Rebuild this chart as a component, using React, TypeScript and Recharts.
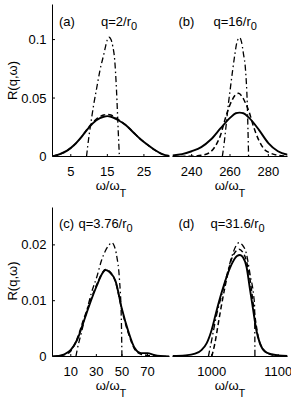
import React from 'react';
import { LineChart, Line, XAxis, YAxis } from 'recharts';

const FONT = '"Liberation Sans", Arial, Helvetica, sans-serif';

// ---------- Panel (a) q=2/r0 ----------
const A_X_DOMAIN = [0, 32];
const A_Y_DOMAIN = [0, 0.13];
const A_X_TICKS = [5, 15, 25];
const A_Y_TICKS = [0, 0.05, 0.1];
const A_SOLID_X = [0, 2, 4, 6, 8, 10, 12, 14, 15, 16, 18, 20, 22, 24, 26, 28, 30, 32];
const A_SOLID_Y = [0, 0.002, 0.005, 0.01, 0.017, 0.025, 0.031, 0.034, 0.0345, 0.034, 0.031, 0.027, 0.021, 0.015, 0.01, 0.0055, 0.002, 0.0005];
const A_DASH_X = [0, 2, 4, 6, 8, 10, 12, 14, 15, 16, 18, 20, 22, 24, 26, 28, 30, 32];
const A_DASH_Y = [0, 0.002, 0.005, 0.01, 0.017, 0.0255, 0.032, 0.0355, 0.036, 0.0355, 0.0315, 0.027, 0.021, 0.015, 0.01, 0.0055, 0.002, 0.0005];
const A_DOT_X = [9.3, 10, 10.7, 11.3, 12, 13, 14, 14.5, 15, 15.5, 16, 16.5, 17, 17.5, 18, 18.3];
const A_DOT_Y = [0, 0.018, 0.033, 0.045, 0.057, 0.074, 0.087, 0.094, 0.1, 0.102, 0.1, 0.094, 0.083, 0.057, 0.02, 0];

// ---------- Panel (b) q=16/r0 ----------
const B_X_DOMAIN = [230, 290];
const B_X_TICKS = [240, 260, 280];
const B_SOLID_X = [230, 235, 240, 245, 250, 255, 260, 263, 265, 267, 270, 275, 280, 285, 290];
const B_SOLID_Y = [0.001, 0.002, 0.0045, 0.008, 0.0145, 0.024, 0.033, 0.037, 0.0375, 0.037, 0.033, 0.023, 0.0115, 0.0045, 0.0015];
const B_DASH_X = [230, 240, 245, 249, 252, 255, 258, 261, 263, 264.5, 266, 268, 270, 272, 275, 278, 281, 285, 290];
const B_DASH_Y = [0, 0.0003, 0.001, 0.003, 0.008, 0.018, 0.035, 0.048, 0.053, 0.054, 0.052, 0.046, 0.038, 0.027, 0.014, 0.006, 0.003, 0.001, 0.0002];
const B_DOT_X = [256, 257, 258, 259.2, 260, 261.4, 262.5, 263.5, 264.5, 265.2, 266, 267, 268.1, 269, 269.7];
const B_DOT_Y = [0, 0.012, 0.027, 0.0455, 0.056, 0.074, 0.087, 0.097, 0.101, 0.1015, 0.098, 0.088, 0.074, 0.0455, 0];

// ---------- Panel (c) q=3.76/r0 ----------
const C_X_DOMAIN = [-4.3, 87.2];
const C_Y_DOMAIN = [0, 0.0267];
const C_X_TICKS = [10, 30, 50, 70];
const C_Y_TICKS = [0, 0.01, 0.02];
const C_SOLID_X = [-4.3, 0, 5, 10, 15, 20, 25, 30, 35, 37, 40, 45, 50, 55, 60, 65, 70, 75, 80, 87];
const C_SOLID_Y = [0, 0.0001, 0.0004, 0.0012, 0.003, 0.0062, 0.0095, 0.0125, 0.015, 0.0155, 0.0152, 0.0135, 0.0085, 0.0045, 0.0015, 0.0006, 0.0006, 0.0003, 0.0001, 0];
const C_DASH_X = [-4.3, 0, 5, 10, 15, 20, 25, 30, 35, 37, 40, 45, 50, 55, 60, 65, 70, 75, 80, 87];
const C_DASH_Y = [0, 0.0001, 0.0003, 0.001, 0.0032, 0.0066, 0.0098, 0.0127, 0.0151, 0.0156, 0.0153, 0.0134, 0.0083, 0.0042, 0.0013, 0.0004, 0.0002, 0.0001, 0, 0];
const C_DOT_X = [14, 15, 18, 22.6, 26, 30.4, 34, 37, 40, 42, 44, 46, 48, 49.5, 50];
const C_DOT_Y = [0, 0.0012, 0.004, 0.0083, 0.0113, 0.0143, 0.0172, 0.0189, 0.02, 0.0204, 0.0198, 0.0179, 0.014, 0.007, 0];

// ---------- Panel (d) q=31.6/r0 ----------
const D_X_DOMAIN = [941, 1114];
const D_X_TICKS = [1000, 1100];
const D_SOLID_X = [941, 960, 975, 985, 992.5, 1000, 1007.5, 1015, 1022.5, 1032, 1038, 1042.5, 1047, 1052.5, 1057, 1062.4, 1067, 1072.4, 1080, 1090, 1100, 1114];
const D_SOLID_Y = [0.0001, 0.0002, 0.0005, 0.0012, 0.0024, 0.0048, 0.0083, 0.0115, 0.0143, 0.017, 0.018, 0.0182, 0.0178, 0.016, 0.0125, 0.0083, 0.0048, 0.0024, 0.0009, 0.0004, 0.0002, 0.0001];
const D_DASH_X = [1000, 1005, 1010, 1020, 1030, 1036, 1041, 1046, 1052, 1058, 1064, 1070, 1078, 1090, 1114];
const D_DASH_Y = [0, 0.0025, 0.006, 0.0125, 0.0175, 0.0188, 0.0192, 0.0188, 0.0172, 0.0135, 0.008, 0.0035, 0.0012, 0.0003, 0];
const D_DOT_X = [995, 1000, 1007.5, 1015, 1022.5, 1030, 1036, 1041, 1046, 1052, 1058, 1063, 1064.5, 1065];
const D_DOT_Y = [0, 0.003, 0.0075, 0.011, 0.0145, 0.0178, 0.0197, 0.0204, 0.02, 0.0185, 0.0145, 0.011, 0.009, 0];

const pts = (xs: number[], ys: number[]) => xs.map((x, i) => ({ x, y: ys[i] }));

const TL = 2.5;

const BottomTick = (p: any) => (
  <g>
    <line x1={p.x} x2={p.x} y1={p.y} y2={p.y - TL} stroke="#000" strokeWidth={1} />
    <text x={p.x} y={p.y + 19} textAnchor="middle" fontFamily={FONT} fontSize={13} fill="#000">
      {p.payload.value}
    </text>
  </g>
);
const TopTick = (p: any) => (
  <line x1={p.x} x2={p.x} y1={p.y} y2={p.y + TL} stroke="#000" strokeWidth={1} />
);
const LeftTick = (p: any) => (
  <g>
    <line x1={p.x} x2={p.x + TL} y1={p.y} y2={p.y} stroke="#000" strokeWidth={1} />
    {p.show ? (
      <text x={p.x - 6} y={p.y + 4.6} textAnchor="end" fontFamily={FONT} fontSize={13} fill="#000">
        {p.payload.value}
      </text>
    ) : null}
  </g>
);
const RightTick = (p: any) => (
  <line x1={p.x} x2={p.x - TL} y1={p.y} y2={p.y} stroke="#000" strokeWidth={1} />
);

type Series = { data: { x: number; y: number }[]; dash?: string; width: number };

function Panel(props: any) {
  const { left, top, width, height, margin, yAxisWidth, xAxisHeight, xDomain, yDomain, xTicks, yTicks, showY, series } = props;
  return (
    <div style={{ position: 'absolute', left, top, width, height }}>
      <LineChart width={width} height={height} margin={margin}>
        <XAxis xAxisId="b" dataKey="x" type="number" domain={xDomain} ticks={xTicks} allowDataOverflow
          orientation="bottom" height={xAxisHeight} tickSize={0} tickMargin={0} tickLine={false}
          axisLine={{ stroke: '#000', strokeWidth: 1 }} interval={0} tick={(p: any) => <BottomTick {...p} />} />
        <XAxis xAxisId="t" dataKey="x" type="number" domain={xDomain} ticks={xTicks} allowDataOverflow
          orientation="top" height={0} tickSize={0} tickMargin={0} tickLine={false}
          axisLine={{ stroke: '#000', strokeWidth: 1 }} interval={0} tick={(p: any) => <TopTick {...p} />} />
        <YAxis yAxisId="l" type="number" domain={yDomain} ticks={yTicks} allowDataOverflow
          orientation="left" width={yAxisWidth} tickSize={0} tickMargin={0} tickLine={false}
          axisLine={{ stroke: '#000', strokeWidth: 1 }} interval={0} tick={(p: any) => <LeftTick {...p} show={showY} />} />
        <YAxis yAxisId="r" type="number" domain={yDomain} ticks={yTicks} allowDataOverflow
          orientation="right" width={0} tickSize={0} tickMargin={0} tickLine={false}
          axisLine={{ stroke: '#000', strokeWidth: 1 }} interval={0} tick={(p: any) => <RightTick {...p} />} />
        {series.map((s: Series, i: number) => (
          <Line key={i} xAxisId="b" yAxisId="l" data={s.data} dataKey="y" type="monotone"
            stroke="#000" strokeWidth={s.width} strokeDasharray={s.dash} dot={false}
            activeDot={false} isAnimationActive={false} />
        ))}
      </LineChart>
    </div>
  );
}

const mk = (sx: number[], sy: number[], dx: number[], dy: number[], ox: number[], oy: number[]): Series[] => [
  { data: pts(ox, oy), dash: '6 3 1.5 3', width: 1.3 },
  { data: pts(dx, dy), dash: '5 3', width: 1.5 },
  { data: pts(sx, sy), width: 1.9 },
];

const Sub = ({ children }: any) => (
  <tspan dy={4} fontSize={11}>{children}</tspan>
);

export default function App() {
  const txt = { fontFamily: FONT, fontSize: 13, fill: '#000' } as any;
  return (
    <div style={{ position: 'absolute', left: 0, top: 0, width: 291, height: 403, background: '#fff' }}>
      <Panel left={0} top={0} width={171} height={200}
        margin={{ top: 4.5, right: 1.5, bottom: 0, left: 0 }} yAxisWidth={52.5} xAxisHeight={43.5}
        xDomain={A_X_DOMAIN} yDomain={A_Y_DOMAIN} xTicks={A_X_TICKS} yTicks={A_Y_TICKS} showY
        series={mk(A_SOLID_X, A_SOLID_Y, A_DASH_X, A_DASH_Y, A_DOT_X, A_DOT_Y)} />
      <Panel left={171} top={0} width={120} height={200}
        margin={{ top: 4.5, right: 3.5, bottom: 0, left: 1.5 }} yAxisWidth={0} xAxisHeight={43.5}
        xDomain={B_X_DOMAIN} yDomain={A_Y_DOMAIN} xTicks={B_X_TICKS} yTicks={A_Y_TICKS} showY={false}
        series={mk(B_SOLID_X, B_SOLID_Y, B_DASH_X, B_DASH_Y, B_DOT_X, B_DOT_Y)} />
      <Panel left={0} top={200} width={171} height={203}
        margin={{ top: 7.5, right: 1.5, bottom: 0, left: 0 }} yAxisWidth={52.5} xAxisHeight={46.5}
        xDomain={C_X_DOMAIN} yDomain={C_Y_DOMAIN} xTicks={C_X_TICKS} yTicks={C_Y_TICKS} showY
        series={mk(C_SOLID_X, C_SOLID_Y, C_DASH_X, C_DASH_Y, C_DOT_X, C_DOT_Y)} />
      <Panel left={171} top={200} width={120} height={203}
        margin={{ top: 7.5, right: 3.5, bottom: 0, left: 1.5 }} yAxisWidth={0} xAxisHeight={46.5}
        xDomain={D_X_DOMAIN} yDomain={C_Y_DOMAIN} xTicks={D_X_TICKS} yTicks={C_Y_TICKS} showY={false}
        series={mk(D_SOLID_X, D_SOLID_Y, D_DASH_X, D_DASH_Y, D_DOT_X, D_DOT_Y)} />
      <svg width={291} height={403} style={{ position: 'absolute', left: 0, top: 0, pointerEvents: 'none' }}>
        <text {...txt} transform="rotate(-90 17 80.5)" x={17} y={80.5} textAnchor="middle">R(q,ω)</text>
        <text {...txt} transform="rotate(-90 17 281)" x={17} y={281} textAnchor="middle">R(q,ω)</text>
        <text {...txt} x={111} y={190} textAnchor="middle">ω/ω<tspan dy={7} fontSize={11}>T</tspan></text>
        <text {...txt} x={230} y={190} textAnchor="middle">ω/ω<tspan dy={7} fontSize={11}>T</tspan></text>
        <text {...txt} x={111} y={390} textAnchor="middle">ω/ω<tspan dy={7} fontSize={11}>T</tspan></text>
        <text {...txt} x={230} y={390} textAnchor="middle">ω/ω<tspan dy={7} fontSize={11}>T</tspan></text>
        <text {...txt} x={59} y={25.5}>(a)</text>
        <text {...txt} x={101} y={25.5}>q=2/r<Sub>0</Sub></text>
        <text {...txt} x={178.5} y={25.5}>(b)</text>
        <text {...txt} x={213.5} y={25.5}>q=16/r<Sub>0</Sub></text>
        <text {...txt} x={59} y={228}>(c)</text>
        <text {...txt} x={78.5} y={228}>q=3.76/r<Sub>0</Sub></text>
        <text {...txt} x={178.5} y={228}>(d)</text>
        <text {...txt} x={210.5} y={228}>q=31.6/r<Sub>0</Sub></text>
      </svg>
    </div>
  );
}
